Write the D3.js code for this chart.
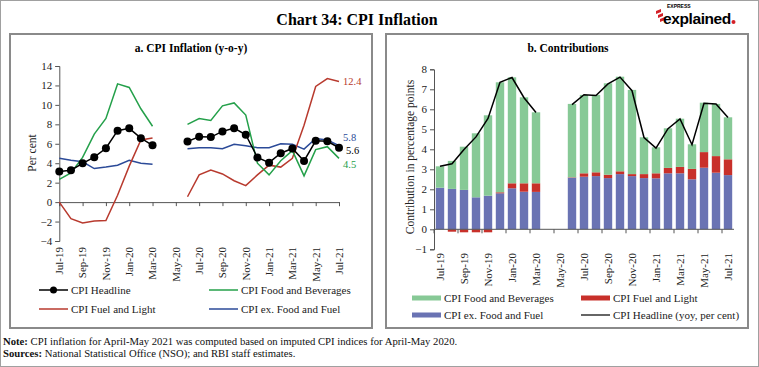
<!DOCTYPE html>
<html>
<head>
<meta charset="utf-8">
<script src="https://cdn.jsdelivr.net/npm/d3@7"></script>
<style>
  body { margin: 0; background: #fff; }
  svg { display: block; font-family: "Liberation Serif", serif; }
</style>
</head>
<body>
<div id="chart"></div>
<script>
// months shown on both panels
var months = ['Jul-19','Aug-19','Sep-19','Oct-19','Nov-19','Dec-19','Jan-20','Feb-20','Mar-20','Apr-20','May-20','Jun-20',
  'Jul-20','Aug-20','Sep-20','Oct-20','Nov-20','Dec-20','Jan-21','Feb-21','Mar-21','Apr-21','May-21','Jun-21','Jul-21'];

// a. CPI inflation y-o-y (per cent), Apr-May 2020 missing
var headline = [3.15,3.28,3.99,4.62,5.54,7.35,7.59,6.58,5.84,null,null,6.23,6.73,6.69,7.27,7.61,6.93,4.59,4.06,5.03,5.52,4.23,6.30,6.26,5.59];
var foodBev  = [2.33,3.0,4.6,7.0,8.6,12.16,11.79,9.6,7.8,null,null,8.0,8.6,8.4,9.9,10.2,8.95,4.0,2.8,4.25,5.3,2.7,5.4,5.7,4.5];
var fuelLight = [0,-1.7,-2.15,-1.95,-1.9,0.7,3.7,6.4,6.6,null,null,0.55,2.8,3.3,2.9,2.2,1.7,2.8,3.8,3.6,4.5,7.9,11.9,12.7,12.4];
var exFoodFuel = [4.5,4.3,4.15,3.45,3.6,3.8,4.3,4.0,3.9,null,null,5.5,5.6,5.6,5.5,5.95,5.8,5.6,5.6,6.0,5.95,5.45,6.55,6.4,5.8];

// b. contributions (percentage points)
var contribCore = [2.08,2.02,1.97,1.6,1.68,1.8,2.05,1.88,1.87,null,null,2.58,2.63,2.66,2.56,2.76,2.66,2.56,2.55,2.8,2.8,2.5,3.08,2.83,2.71];
var contribFuel = [0,-0.12,-0.15,-0.15,-0.15,0.05,0.25,0.42,0.43,null,null,0.02,0.17,0.19,0.17,0.14,0.1,0.2,0.25,0.27,0.32,0.52,0.78,0.83,0.79];
var contribFood = [1.07,1.4,2.16,3.2,4.02,5.5,5.3,4.3,3.55,null,null,3.67,3.92,3.87,4.57,4.73,4.21,1.84,1.3,1.98,2.41,1.23,2.47,2.61,2.1];

var yTicksA = [-4,-2,0,2,4,6,8,10,12,14];
var yTicksB = [-1,0,1,2,3,4,5,6,7,8];

var W = 759, H = 367;
var svg = d3.select('#chart').append('svg').attr('width', W).attr('height', H);

// outer frame and header
svg.append('rect').attr('x', 0.5).attr('y', 0.5).attr('width', W - 1).attr('height', H - 1)
  .attr('fill', 'none').attr('stroke', '#a0a0a0');
svg.append('text').attr('x', 357).attr('y', 25).attr('text-anchor', 'middle')
  .style('font-size', '16px').style('font-weight', 'bold').text('Chart 34: CPI Inflation');

// logo
var logo = svg.append('g');
[0, 1, 2].forEach(function(i) {
  logo.append('path').attr('d', 'M' + (656 + i * 2) + ',' + (11 + i * 4) + 'l5,-2l0,3l-5,2z').attr('fill', '#d32027');
});
logo.append('text').attr('x', 667).attr('y', 8).style('font-family', 'Liberation Sans, sans-serif')
  .style('font-size', '5px').style('font-weight', 'bold').text('EXPRESS');
logo.append('text').attr('x', 663).attr('y', 24).style('font-family', 'Liberation Sans, sans-serif')
  .style('font-size', '15.5px').style('font-weight', 'bold').style('letter-spacing', '-0.4px').text('explained');
logo.append('circle').attr('cx', 733.5).attr('cy', 22).attr('r', 2).attr('fill', '#d32027');

// panel boxes
svg.append('rect').attr('x', 10).attr('y', 34).attr('width', 362).attr('height', 294)
  .attr('fill', 'none').attr('stroke', '#8a8a8a').attr('stroke-width', 2);
svg.append('rect').attr('x', 386).attr('y', 34).attr('width', 362).attr('height', 294)
  .attr('fill', 'none').attr('stroke', '#8a8a8a').attr('stroke-width', 2);

// ---------- a. CPI Inflation ----------
var xA = d3.scaleLinear().domain([0, months.length - 1]).range([59.3, 339]);
var yA = d3.scaleLinear().domain([-4, 14]).range([241, 66]);
var gA = svg.append('g');

gA.append('text').attr('x', 191).attr('y', 52).attr('text-anchor', 'middle')
  .style('font-size', '11.5px').style('font-weight', 'bold').text('a. CPI Inflation (y-o-y)');

gA.append('g').attr('transform', 'translate(' + xA(0) + ',0)')
  .call(d3.axisLeft(yA).tickValues(yTicksA).tickSize(4).tickPadding(3))
  .call(function(g) {
    g.select('.domain').attr('stroke', '#555');
    g.selectAll('.tick line').attr('stroke', '#555');
    g.selectAll('text').style('font-family', 'Liberation Serif, serif').style('font-size', '11px').attr('fill', '#222');
  });

var evenIdx = d3.range(0, months.length, 2);
gA.append('g').attr('transform', 'translate(0,' + yA(0) + ')')
  .call(d3.axisBottom(xA).tickValues(evenIdx).tickSize(4).tickFormat(''))
  .call(function(g) {
    g.select('.domain').attr('stroke', '#555');
    g.selectAll('.tick line').attr('stroke', '#555');
  });

gA.selectAll('text.xl').data(evenIdx).enter().append('text')
  .attr('transform', function(i) { return 'translate(' + xA(i) + ',247) rotate(-90)'; })
  .attr('dy', '0.35em').attr('text-anchor', 'end').style('font-size', '11px').attr('fill', '#222')
  .text(function(i) { return months[i]; });

gA.append('text').attr('transform', 'translate(32,153) rotate(-90)').attr('text-anchor', 'middle')
  .attr('dy', '0.35em').style('font-size', '11.5px').attr('fill', '#222').text('Per cent');

var lineA = d3.line().defined(function(d) { return d != null; })
  .x(function(d, i) { return xA(i); }).y(function(d) { return yA(d); });

var seriesA = [
  { vals: exFoodFuel, color: '#2b4a98' },
  { vals: fuelLight, color: '#b83a2e' },
  { vals: foodBev, color: '#24a04a' },
  { vals: headline, color: '#000' }
];
seriesA.forEach(function(s) {
  gA.append('path').datum(s.vals).attr('d', lineA).attr('fill', 'none')
    .attr('stroke', s.color).attr('stroke-width', 1.5);
});
gA.selectAll('circle.hd').data(headline).enter().filter(function(d) { return d != null; })
  .append('circle').attr('cx', function(d) { return xA(headline.indexOf(d)); })
  .attr('cy', function(d) { return yA(d); }).attr('r', 4).attr('fill', '#000');

// end labels
var last = months.length - 1;
var endLabels = [
  { v: fuelLight[last], t: '12.4', color: '#b83a2e', dx: 4, dy: 0 },
  { v: exFoodFuel[last], t: '5.8', color: '#2b4a98', dx: 4, dy: -8 },
  { v: headline[last], t: '5.6', color: '#000', dx: 7, dy: 3 },
  { v: foodBev[last], t: '4.5', color: '#24a04a', dx: 4, dy: 6 }
];
gA.selectAll('text.end').data(endLabels).enter().append('text')
  .attr('x', function(d) { return xA(last) + d.dx; })
  .attr('y', function(d) { return yA(d.v) + d.dy; })
  .attr('dy', '0.35em').style('font-size', '10.5px').attr('fill', function(d) { return d.color; })
  .text(function(d) { return d.t; });

// legend a
var legA = [
  { t: 'CPI Headline', color: '#000', x: 39, y: 290, dot: true },
  { t: 'CPI Fuel and Light', color: '#b83a2e', x: 39, y: 309 },
  { t: 'CPI Food and Beverages', color: '#24a04a', x: 209, y: 290 },
  { t: 'CPI ex. Food and Fuel', color: '#2b4a98', x: 209, y: 309 }
];
legA.forEach(function(d) {
  gA.append('line').attr('x1', d.x).attr('x2', d.x + 29).attr('y1', d.y).attr('y2', d.y)
    .attr('stroke', d.color).attr('stroke-width', 1.5);
  if (d.dot) gA.append('circle').attr('cx', d.x + 14.5).attr('cy', d.y).attr('r', 3.5).attr('fill', d.color);
  gA.append('text').attr('x', d.x + 32).attr('y', d.y).attr('dy', '0.35em')
    .style('font-size', '11px').attr('fill', '#222').text(d.t);
});

// ---------- b. Contributions ----------
var xB = d3.scaleBand().domain(months).range([434, 734]).paddingInner(0.3).paddingOuter(0.15);
var yB = d3.scaleLinear().domain([-1, 8]).range([249.3, 69.3]);
var gB = svg.append('g');

gB.append('text').attr('x', 568).attr('y', 52).attr('text-anchor', 'middle')
  .style('font-size', '11.5px').style('font-weight', 'bold').text('b. Contributions');

gB.append('g').attr('transform', 'translate(434,0)')
  .call(d3.axisLeft(yB).tickValues(yTicksB).tickSize(4).tickPadding(3))
  .call(function(g) {
    g.select('.domain').attr('stroke', '#555');
    g.selectAll('.tick line').attr('stroke', '#555');
    g.selectAll('text').style('font-family', 'Liberation Serif, serif').style('font-size', '11px').attr('fill', '#222');
  });

gB.append('text').attr('transform', 'translate(410,157) rotate(-90)').attr('text-anchor', 'middle')
  .attr('dy', '0.35em').style('font-size', '11.5px').attr('fill', '#222').text('Contribution in percentage points');

var rows = months.map(function(m, i) {
  return { m: m, core: contribCore[i] || 0, fuel: contribFuel[i] || 0, food: contribFood[i] || 0 };
});
var stackB = d3.stack().keys(['core', 'fuel', 'food']).offset(d3.stackOffsetDiverging)(rows);
var colorsB = { core: '#6a73b3', fuel: '#c8302a', food: '#87c996' };

stackB.forEach(function(layer) {
  gB.append('g').attr('fill', colorsB[layer.key]).selectAll('rect').data(layer).enter()
    .filter(function(d) { return d[1] !== d[0]; })
    .append('rect')
    .attr('x', function(d) { return xB(d.data.m); })
    .attr('width', xB.bandwidth())
    .attr('y', function(d) { return yB(Math.max(d[0], d[1])); })
    .attr('height', function(d) { return Math.abs(yB(d[0]) - yB(d[1])); });
});

// x axis on zero line, ticks every two categories at band edges
var step = xB.step();
var edgeTicks = d3.range(0, months.length, 2);
var xAxisB = gB.append('g');
xAxisB.append('line').attr('x1', 434).attr('x2', 734).attr('y1', yB(0)).attr('y2', yB(0)).attr('stroke', '#555');
xAxisB.selectAll('line.tk').data(edgeTicks).enter().append('line')
  .attr('x1', function(k) { return 434 + k * step; }).attr('x2', function(k) { return 434 + k * step; })
  .attr('y1', yB(0)).attr('y2', yB(0) + 4).attr('stroke', '#555');

gB.selectAll('text.xl').data(evenIdx).enter().append('text')
  .attr('transform', function(i) { return 'translate(' + (xB(months[i]) + xB.bandwidth() / 2) + ',253) rotate(-90)'; })
  .attr('dy', '0.35em').attr('text-anchor', 'end').style('font-size', '11px').attr('fill', '#222')
  .text(function(i) { return months[i]; });

var lineB = d3.line().defined(function(d) { return d != null; })
  .x(function(d, i) { return xB(months[i]) + xB.bandwidth() / 2; }).y(function(d) { return yB(d); });
gB.append('path').datum(headline).attr('d', lineB).attr('fill', 'none').attr('stroke', '#000').attr('stroke-width', 1.5);

// legend b
var legB = [
  { t: 'CPI Food and Beverages', color: '#87c996', x: 412, y: 298, bar: true },
  { t: 'CPI Fuel and Light', color: '#c8302a', x: 581, y: 298, bar: true },
  { t: 'CPI ex. Food and Fuel', color: '#6a73b3', x: 412, y: 315, bar: true },
  { t: 'CPI Headline (yoy, per cent)', color: '#000', x: 581, y: 315, bar: false }
];
legB.forEach(function(d) {
  if (d.bar) gB.append('rect').attr('x', d.x).attr('y', d.y - 2.5).attr('width', 29).attr('height', 5).attr('fill', d.color);
  else gB.append('line').attr('x1', d.x).attr('x2', d.x + 29).attr('y1', d.y).attr('y2', d.y).attr('stroke', d.color).attr('stroke-width', 1.2);
  gB.append('text').attr('x', d.x + 32).attr('y', d.y).attr('dy', '0.35em')
    .style('font-size', '11px').attr('fill', '#222').text(d.t);
});

// notes
var note = svg.append('text').attr('x', 3).attr('y', 345).style('font-size', '10.7px').attr('fill', '#111');
note.append('tspan').style('font-weight', 'bold').text('Note: ');
note.append('tspan').text('CPI inflation for April-May 2021 was computed based on imputed CPI indices for April-May 2020.');
var src = svg.append('text').attr('x', 3).attr('y', 357).style('font-size', '10.7px').attr('fill', '#111');
src.append('tspan').style('font-weight', 'bold').text('Sources: ');
src.append('tspan').text('National Statistical Office (NSO); and RBI staff estimates.');
</script>
</body>
</html>
